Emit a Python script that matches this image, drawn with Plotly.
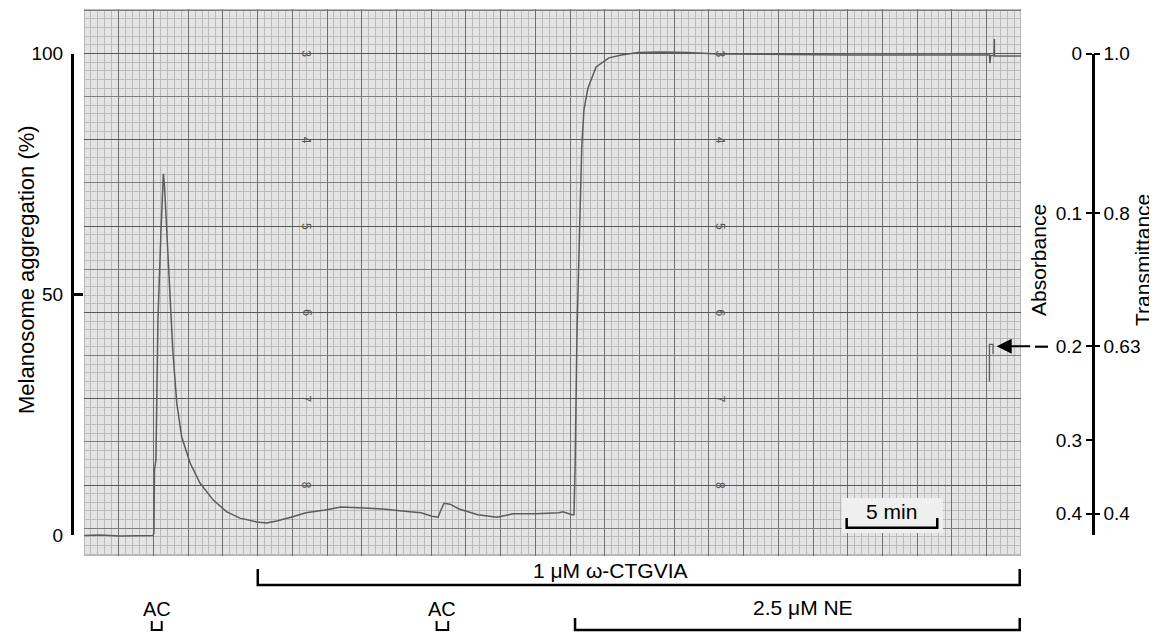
import plotly.graph_objects as go

# ---------------- data ----------------
time_min = [0.00, 0.88, 1.99, 3.09, 3.81, 3.86, 3.89, 3.97, 4.08, 4.25, 4.38, 4.44,
            4.53, 4.71, 4.90, 5.12, 5.39, 5.85, 6.40, 7.12, 7.88, 8.61, 9.53, 10.08,
            10.38, 10.63, 11.42, 12.25, 13.30, 14.18, 15.45, 16.50, 17.55, 18.60,
            19.21, 19.54, 19.70, 19.87, 20.20, 20.70, 21.74, 22.79, 23.68, 24.94,
            26.21, 26.43, 26.93, 27.04, 27.10, 27.21, 27.35, 27.47, 27.59, 27.81,
            28.26, 28.97, 29.66, 30.57, 31.79, 33.33, 34.99, 37.31, 42.27, 47.79,
            49.97, 50.00, 50.03, 50.22, 50.24, 50.25, 50.55, 51.71]
aggregation_pct = [-0.1, 0.0, -0.2, -0.1, -0.1, 0.4, 13.5, 15.6, 44.7, 63.3, 75.0, 72.7,
                   66.0, 52.3, 38.4, 27.4, 20.4, 15.0, 10.8, 7.3, 4.8, 3.5, 2.7, 2.5,
                   2.7, 2.9, 3.7, 4.6, 5.2, 5.8, 5.6, 5.4, 5.0, 4.6,
                   3.9, 3.7, 5.2, 6.6, 6.4, 5.4, 4.2, 3.7, 4.4, 4.4,
                   4.6, 4.8, 4.2, 4.2, 13.5, 42.6, 63.3, 80.6, 88.3, 92.8,
                   97.2, 99.1, 99.7, 100.2, 100.3, 100.2, 99.9, 99.8, 99.7, 99.7,
                   99.7, 98.0, 99.6, 99.6, 103.0, 99.5, 99.5, 99.5]

calib_time = [49.97, 49.97, 50.17, 50.17]
calib_pct = [31.9, 39.6, 39.6, 37.6]

left_tick_vals = [0, 50, 100]
left_tick_text = ["0", "50", "100"]
absorb_vals = [100, 66.8, 39.2, 19.7, 4.4]
absorb_text = ["0", "0.1", "0.2", "0.3", "0.4"]
trans_vals = [100, 66.8, 39.2, 4.4]
trans_text = ["1.0", "0.8", "0.63", "0.4"]

treat_labels = ["1 μM ω-CTGVIA", "2.5 μM NE"]
treat_start = [9.59, 27.10]
treat_end = [51.64, 51.64]
treat_label_time = [29.08, 39.68]

ac_labels = ["AC", "AC"]
ac_start = [3.74, 19.46]
ac_end = [4.29, 20.10]

scale_bar_start = 42.09
scale_bar_len = 5.0  # min

paper_numbers = ["3", "4", "5", "6", "7", "8"]
paper_number_pct = [100, 82.08, 64.15, 46.23, 28.30, 10.38]
paper_number_time = [12.26, 35.10]

calib_arrow_time = 50.37
calib_arrow_pct = 39.2

# ---------------- layout geometry (screen pixels) ----------------
W, H = 1157, 632
OFF = 8                      # page body margin
SX0, SX1, SY0, SY1 = 60, 1137, 9, 556   # plotting region on screen
PAPER_L, PAPER_R, PAPER_T, PAPER_B = 84, 1021, 9, 556
PX_PER_MIN = 18.12
PX_PER_PCT = 4.815
ZERO_PY = 535
MAJOR_X = 1.916
MAJOR_Y = 8.962

FONT = "Liberation Sans, Arial, Helvetica, sans-serif"


def fx(px):
    return (px - SX0) / (SX1 - SX0)


def fy(py):
    return (SY1 - py) / (SY1 - SY0)


def pct(py):
    return (ZERO_PY - py) / PX_PER_PCT


x_range = [0, (PAPER_R - PAPER_L) / PX_PER_MIN]
y_range = [pct(PAPER_B), pct(PAPER_T)]
scale_dom = [fy(ZERO_PY), fy(ZERO_PY - 100 * PX_PER_PCT)]

PAPER_BG = "#e4e4e4"
TRACE = "#5c5c5c"

fig = go.Figure()
fig.add_trace(go.Scatter(x=time_min, y=aggregation_pct, mode="lines",
                         line=dict(color=TRACE, width=1.5), hoverinfo="skip",
                         showlegend=False))
fig.add_trace(go.Scatter(x=calib_time, y=calib_pct, mode="lines",
                         line=dict(color=TRACE, width=1.3), hoverinfo="skip",
                         showlegend=False))
# carriers for the extra axes
for xa, ya in [("x", "y5"), ("x2", "y2"), ("x3", "y3"), ("x3", "y4")]:
    fig.add_trace(go.Scatter(x=[0.5], y=[50], xaxis=xa, yaxis=ya, mode="markers",
                             marker=dict(opacity=0), hoverinfo="skip", showlegend=False))

fig.update_layout(
    template="none",
    width=W, height=H,
    margin=dict(l=SX0 - OFF, r=W - (SX1 - OFF), t=SY0 - OFF, b=H - (SY1 - OFF), pad=0),
    paper_bgcolor="white", plot_bgcolor="rgba(0,0,0,0)",
    font=dict(family=FONT, color="black", size=18),
    showlegend=False,
    xaxis=dict(domain=[fx(PAPER_L), fx(PAPER_R)], range=x_range, tick0=0, dtick=MAJOR_X,
               showgrid=True, gridcolor="#707070", gridwidth=1,
               minor=dict(tick0=0, dtick=MAJOR_X / 5, showgrid=True,
                          gridcolor="#bababa", gridwidth=0.7),
               showticklabels=False, ticks="", zeroline=False, showline=False,
               automargin=False, fixedrange=True),
    yaxis=dict(domain=[0, 1], range=y_range, tick0=100, dtick=2 * MAJOR_Y,
               showgrid=True, gridcolor="#585858", gridwidth=1.3,
               minor=dict(tick0=100, dtick=MAJOR_Y / 5, showgrid=True,
                          gridcolor="#bababa", gridwidth=0.7),
               showticklabels=False, ticks="", zeroline=False, showline=False,
               automargin=False, fixedrange=True),
    yaxis5=dict(overlaying="y", range=y_range, tick0=100 - MAJOR_Y, dtick=2 * MAJOR_Y,
                showgrid=True, gridcolor="#7e7e7e", gridwidth=1,
                showticklabels=False, ticks="", zeroline=False, showline=False,
                automargin=False, fixedrange=True),
    xaxis2=dict(domain=[0, 0.01], range=[0, 1], visible=False, fixedrange=True),
    yaxis2=dict(domain=scale_dom, range=[0, 100], anchor="free", position=fx(71.7),
                side="left", showline=True, linecolor="black", linewidth=2.5,
                ticks="inside", ticklen=10, tickwidth=2.5, tickcolor="black",
                tickvals=left_tick_vals, ticktext=left_tick_text,
                tickfont=dict(size=19), ticklabelstandoff=4,
                showgrid=False, zeroline=False, automargin=False, fixedrange=True),
    xaxis3=dict(domain=[0.99, 1.0], range=[0, 1], visible=False, fixedrange=True),
    yaxis3=dict(domain=scale_dom, range=[0, 100], anchor="free", position=fx(1092.7),
                side="left", showline=True, linecolor="black", linewidth=2.5,
                ticks="outside", ticklen=6, tickwidth=2, tickcolor="black",
                tickvals=absorb_vals, ticktext=absorb_text, tickfont=dict(size=19),
                showgrid=False, zeroline=False, automargin=False, fixedrange=True),
    yaxis4=dict(overlaying="y3", range=[0, 100], anchor="free", position=fx(1092.7),
                side="right", showline=False,
                ticks="outside", ticklen=6, tickwidth=2, tickcolor="black",
                tickvals=trans_vals, ticktext=trans_text, tickfont=dict(size=19),
                showgrid=False, zeroline=False, automargin=False, fixedrange=True),
)

shapes = []
# recorder paper
shapes.append(dict(type="rect", xref="x", yref="y", x0=x_range[0], x1=x_range[1],
                   y0=y_range[0], y1=y_range[1], fillcolor=PAPER_BG,
                   line=dict(color="#8a8a8a", width=1), layer="below"))
# 5 min scale bar box and bracket
sb0, sb1 = scale_bar_start, scale_bar_start + scale_bar_len
shapes.append(dict(type="rect", xref="x", yref="y", x0=sb0 - 0.27, x1=sb1 + 0.31,
                   y0=pct(533), y1=pct(498), fillcolor="#efefef",
                   line=dict(width=0), layer="above"))
shapes.append(dict(type="path", xref="x", yref="y",
                   path=f"M {sb0},{pct(518)} L {sb0},{pct(527.7)} L {sb1},{pct(527.7)} L {sb1},{pct(518)}",
                   line=dict(color="black", width=2.5), layer="above"))
# treatment brackets
treat_y = [(569, 585), (618, 630)]
for (t0, t1), (yt, yb) in zip(zip(treat_start, treat_end), treat_y):
    shapes.append(dict(type="path", xref="x", yref="paper",
                       path=f"M {t0},{fy(yt)} L {t0},{fy(yb)} L {t1},{fy(yb)} L {t1},{fy(yt)}",
                       line=dict(color="black", width=2.5)))
# AC application brackets
for t0, t1 in zip(ac_start, ac_end):
    shapes.append(dict(type="path", xref="x", yref="paper",
                       path=f"M {t0},{fy(621)} L {t0},{fy(630)} L {t1},{fy(630)} L {t1},{fy(621)}",
                       line=dict(color="black", width=2)))
# dash next to the arrow
shapes.append(dict(type="line", xref="paper", yref="paper", x0=fx(1035), x1=fx(1048),
                   y0=fy(346.7), y1=fy(346.7), line=dict(color="black", width=2.2)))

annotations = []
annotations.append(dict(text="Melanosome aggregation (%)", xref="paper", yref="paper",
                        x=fx(26), y=fy(270), textangle=-90, showarrow=False,
                        font=dict(size=22), xanchor="center", yanchor="middle"))
annotations.append(dict(text="Absorbance", xref="paper", yref="paper",
                        x=fx(1039), y=fy(260), textangle=-90, showarrow=False,
                        font=dict(size=21), xanchor="center", yanchor="middle"))
annotations.append(dict(text="Transmittance", xref="paper", yref="paper",
                        x=fx(1143), y=fy(260), textangle=-90, showarrow=False,
                        font=dict(size=21), xanchor="center", yanchor="middle"))
for lab, tx, yy in zip(treat_labels, treat_label_time, [570, 607]):
    annotations.append(dict(text=lab, xref="x", yref="paper", x=tx, y=fy(yy),
                            showarrow=False, font=dict(size=21),
                            xanchor="center", yanchor="middle"))
for lab, t0, t1 in zip(ac_labels, ac_start, ac_end):
    annotations.append(dict(text=lab, xref="x", yref="paper", x=(t0 + t1) / 2, y=fy(609),
                            showarrow=False, font=dict(size=20),
                            xanchor="center", yanchor="middle"))
annotations.append(dict(text="5 min", xref="x", yref="y", x=(sb0 + sb1) / 2 - 0.05,
                        y=pct(511), showarrow=False, font=dict(size=21),
                        xanchor="center", yanchor="middle"))
for tx in paper_number_time:
    for lab, yv in zip(paper_numbers, paper_number_pct):
        annotations.append(dict(text=lab, xref="x", yref="y", x=tx, y=yv,
                                textangle=90, showarrow=False,
                                font=dict(size=12, color="#555555"),
                                xanchor="center", yanchor="middle"))
annotations.append(dict(text="", xref="x", yref="y", x=calib_arrow_time, y=calib_arrow_pct,
                        showarrow=True, ax=35, ay=0, arrowhead=2, arrowsize=1.5,
                        arrowwidth=2, arrowcolor="black", standoff=0))

fig.update_layout(shapes=shapes, annotations=annotations)

fig.write_html("out.html")
